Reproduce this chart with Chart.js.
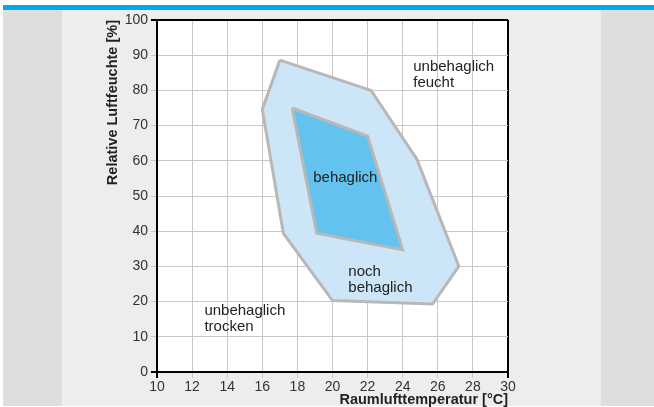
<!DOCTYPE html>
<html>
<head>
<meta charset="utf-8">
<script src="https://cdn.jsdelivr.net/npm/chart.js@4/dist/chart.umd.min.js"></script>
<style>
  html, body { margin: 0; padding: 0; background: #fff; }
  canvas { display: block; }
</style>
</head>
<body>
<canvas id="c" width="654" height="407"></canvas>
<script>
// Outer zone "noch behaglich" (temperature °C, relative humidity %)
const outerTemp = [17.0, 22.2, 24.8, 27.2, 25.7, 20.0, 17.2, 16.0, 17.0];
const outerHum  = [88.6, 80.0, 60.5, 30.0, 19.3, 20.3, 39.4, 74.6, 88.6];
// Inner zone "behaglich"
const innerTemp = [17.7, 22.0, 24.0, 19.1, 17.7];
const innerHum  = [75.0, 67.0, 34.7, 39.4, 75.0];

const xTicks = [10, 12, 14, 16, 18, 20, 22, 24, 26, 28, 30];
const yTicks = [0, 10, 20, 30, 40, 50, 60, 70, 80, 90, 100];

const labelLines = [['unbehaglich', 'feucht'], ['behaglich'], ['noch', 'behaglich'], ['unbehaglich', 'trocken']];
const labelTemp  = [24.6, 18.9, 20.9, 12.7];
const labelHum   = [86.6, 55.1, 28.4, 17.3];

const xTitle = 'Raumlufttemperatur [°C]';
const yTitle = 'Relative Luftfeuchte [%]';

const toPts = (xs, ys) => xs.map((x, i) => ({x: x, y: ys[i]}));

const bgPlugin = {
  id: 'bg',
  beforeDraw(chart) {
    const ctx = chart.ctx;
    const a = chart.chartArea;
    ctx.save();
    ctx.fillStyle = '#ffffff';
    ctx.fillRect(0, 0, chart.width, chart.height);
    ctx.fillStyle = '#00aae9';
    ctx.fillRect(3, 5, chart.width - 3, 5);
    ctx.fillStyle = '#dedede';
    ctx.fillRect(3, 10, chart.width - 3, 396);
    ctx.fillStyle = '#ededed';
    ctx.fillRect(62, 10, 539, 396);
    ctx.fillStyle = '#ffffff';
    ctx.fillRect(a.left, a.top, a.right - a.left, a.bottom - a.top);
    ctx.restore();
  }
};

const labelPlugin = {
  id: 'zoneLabels',
  afterDatasetsDraw(chart) {
    const ctx = chart.ctx;
    const xs = chart.scales.x, ys = chart.scales.y;
    ctx.save();
    ctx.font = '15px "Liberation Sans", Arial, sans-serif';
    ctx.fillStyle = '#222';
    ctx.textAlign = 'left';
    ctx.textBaseline = 'middle';
    labelLines.forEach((lines, i) => {
      const px = xs.getPixelForValue(labelTemp[i]);
      const py = ys.getPixelForValue(labelHum[i]);
      lines.forEach((t, j) => ctx.fillText(t, px, py + j * 16));
    });
    ctx.restore();
  }
};

const edgeColor = (v, lo, hi) => (v === lo || v === hi) ? '#000' : '#c8c8c8';
const edgeWidth = (v, lo, hi) => (v === lo || v === hi) ? 2 : 1;

new Chart(document.getElementById('c'), {
  type: 'scatter',
  data: {
    datasets: [
      {
        data: toPts(outerTemp, outerHum),
        showLine: true,
        fill: 'shape',
        backgroundColor: '#cce6f8',
        borderColor: '#b8b8b8',
        borderWidth: 3,
        borderJoinStyle: 'miter',
        pointRadius: 0,
        tension: 0,
        order: 2
      },
      {
        data: toPts(innerTemp, innerHum),
        showLine: true,
        fill: 'shape',
        backgroundColor: '#63c3ee',
        borderColor: '#b8b8b8',
        borderWidth: 3,
        borderJoinStyle: 'miter',
        pointRadius: 0,
        tension: 0,
        order: 1
      }
    ]
  },
  options: {
    responsive: false,
    devicePixelRatio: 1,
    animation: false,
    events: [],
    layout: { padding: { left: 106, right: 146, top: 20, bottom: 0 } },
    plugins: { legend: { display: false }, tooltip: { enabled: false } },
    scales: {
      x: {
        type: 'linear',
        min: xTicks[0],
        max: xTicks[xTicks.length - 1],
        afterBuildTicks: s => { s.ticks = xTicks.map(v => ({value: v})); },
        afterFit: s => { s.height = 35; },
        grid: {
          color: c => edgeColor(c.tick && c.tick.value, 10, 30),
          lineWidth: c => edgeWidth(c.tick && c.tick.value, 10, 30),
          tickLength: 6
        },
        border: { display: true, color: '#000', width: 2 },
        ticks: {
          color: '#333',
          padding: 1,
          maxRotation: 0,
          font: { family: '"Liberation Sans", Arial, sans-serif', size: 14 }
        },
        title: {
          display: true,
          text: xTitle,
          align: 'end',
          color: '#222',
          padding: 0,
          font: { family: '"Liberation Sans", Arial, sans-serif', size: 14.5, weight: 'bold', lineHeight: 1 }
        }
      },
      y: {
        type: 'linear',
        min: yTicks[0],
        max: yTicks[yTicks.length - 1],
        afterBuildTicks: s => { s.ticks = yTicks.map(v => ({value: v})); },
        afterFit: s => { s.width = 51; },
        grid: {
          color: c => edgeColor(c.tick && c.tick.value, 0, 100),
          lineWidth: c => edgeWidth(c.tick && c.tick.value, 0, 100),
          tickLength: 6
        },
        border: { display: true, color: '#000', width: 2 },
        ticks: {
          color: '#333',
          padding: 3,
          font: { family: '"Liberation Sans", Arial, sans-serif', size: 14 }
        },
        title: {
          display: true,
          text: yTitle,
          align: 'end',
          color: '#222',
          padding: 0,
          font: { family: '"Liberation Sans", Arial, sans-serif', size: 14.5, weight: 'bold', lineHeight: 1 }
        }
      }
    }
  },
  plugins: [bgPlugin, labelPlugin]
});
</script>
</body>
</html>
